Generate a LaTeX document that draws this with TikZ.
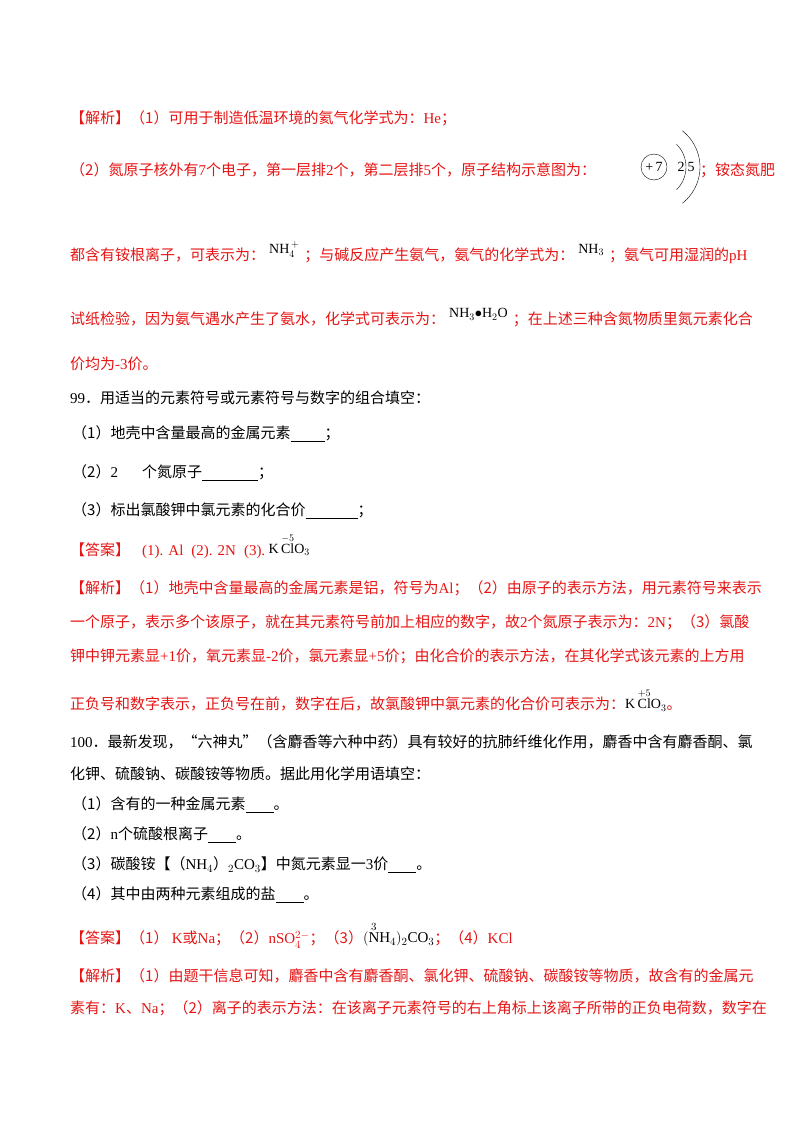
\documentclass[tikz,border=0pt]{standalone}
\usepackage{amsmath}
\usepackage{fontspec}
\setmainfont{Liberation Serif}
\newfontfamily\cjk{Noto Sans CJK SC}
\usepackage{xcolor}
\definecolor{ansred}{RGB}{230,20,20}
\tikzset{
    line-text/.style = {anchor=west, inner sep=0pt, font=\cjk\fontsize{15}{18}\selectfont},
    red-text/.style = {line-text, text=ansred},
    shell/.style = {draw=black, thin},
}
\newcommand{\blank}[1]{\underline{\hspace{#1}}}
\newcommand{\chem}[1]{\hspace{4pt}\raisebox{7pt}{\color{black}\rmfamily\fontsize{14}{16}\selectfont #1}\hspace{5pt}}
\begin{document}
\begin{tikzpicture}[x=1pt,y=-1pt]
\useasboundingbox (0,0) rectangle (800,1132);
\node[red-text] (exA1) at (70,118) {【解析】（1）可用于制造低温环境的氦气化学式为：{\rmfamily He}；};
\node[red-text] (exA2) at (70,170) {（2）氮原子核外有{\rmfamily 7}个电子，第一层排{\rmfamily 2}个，第二层排{\rmfamily 5}个，原子结构示意图为：};
\node[red-text] (exA2b) at (700,170) {；铵态氮肥};
% atom sketch
\node[shell, circle, minimum size=26pt, inner sep=0pt, font=\rmfamily\fontsize{14}{14}\selectfont] (nucleus) at (654,167) {+\,7};
\node[font=\rmfamily\fontsize{14}{14}\selectfont, inner sep=0pt] (shellA) at (681,167) {2};
\node[font=\rmfamily\fontsize{14}{14}\selectfont, inner sep=0pt] (shellB) at (691,167) {5};
\draw[shell] (nucleus.center) ++(45:32) arc[start angle=45, end angle=-45, radius=32];
\draw[shell] (nucleus.center) ++(52:46) arc[start angle=52, end angle=-52, radius=46];
\node[red-text] (exA3) at (70,253) {都含有铵根离子，可表示为：\chem{NH$_4^{\,+}$}；与碱反应产生氨气，氨气的化学式为：\chem{NH$_3$}；氨气可用湿润的{\rmfamily pH}};
\node[red-text] (exA4) at (70,318) {试纸检验，因为氨气遇水产生了氨水，化学式可表示为：\chem{NH$_3$$\bullet$H$_2$O}；在上述三种含氮物质里氮元素化合};
\node[red-text] (exA5) at (70,364) {价均为{\rmfamily -3}价。};
\node[line-text] (q99) at (70,398) {{\rmfamily 99}．用适当的元素符号或元素符号与数字的组合填空：};
\node[line-text] (q99a) at (72,434) {（1）地壳中含量最高的金属元素\blank{34pt}；};
\node[line-text] (q99b) at (72,473) {（2）{\rmfamily 2}\hspace{24pt}个氮原子\blank{56pt}；};
\node[line-text] (q99c) at (72,511) {（3）标出氯酸钾中氯元素的化合价\blank{52pt}；};
\node[red-text] (ans99) at (70,546) {【答案】\hspace{12pt}{\rmfamily (1). Al\hspace{8pt}(2). 2N\hspace{8pt}(3).}\ \raisebox{2pt}{\color{black}\rmfamily\fontsize{14}{16}\selectfont K$\,\overset{-5}{\mathrm{Cl}}$O$_3$}};
\node[red-text] (exB1) at (70,588) {【解析】（1）地壳中含量最高的金属元素是铝，符号为{\rmfamily Al}；（2）由原子的表示方法，用元素符号来表示};
\node[red-text] (exB2) at (70,622) {一个原子，表示多个该原子，就在其元素符号前加上相应的数字，故{\rmfamily 2}个氮原子表示为：{\rmfamily 2N}；（3）氯酸};
\node[red-text] (exB3) at (70,656) {钾中钾元素显{\rmfamily +1}价，氧元素显{\rmfamily -2}价，氯元素显{\rmfamily +5}价；由化合价的表示方法，在其化学式该元素的上方用};
\node[red-text] (exB4) at (70,700) {正负号和数字表示，正负号在前，数字在后，故氯酸钾中氯元素的化合价可表示为：\raisebox{1pt}{\color{black}\rmfamily\fontsize{14}{16}\selectfont K$\,\overset{+5}{\mathrm{Cl}}$O$_3$}。};
\node[line-text] (q100) at (70,742) {{\rmfamily 100}．最新发现，“六神丸”（含麝香等六种中药）具有较好的抗肺纤维化作用，麝香中含有麝香酮、氯};
\node[line-text] (q100b) at (70,774) {化钾、硫酸钠、碳酸铵等物质。据此用化学用语填空：};
\node[line-text] (q100c) at (72,805) {（1）含有的一种金属元素\blank{28pt}。};
\node[line-text] (q100d) at (72,835) {（2）{\rmfamily n}个硫酸根离子\blank{28pt}。};
\node[line-text] (q100e) at (72,865) {（3）碳酸铵【（{\rmfamily NH$_4$}）{\rmfamily $_2$CO$_3$}】中氮元素显一{\rmfamily 3}价\blank{28pt}。};
\node[line-text] (q100f) at (72,895) {（4）其中由两种元素组成的盐\blank{28pt}。};
\node[red-text] (ans100) at (70,935) {【答案】（1）\ {\rmfamily K}或{\rmfamily Na}；（2）{\rmfamily nSO$_4^{2-}$}；（3）\raisebox{1pt}{\color{black}\rmfamily\fontsize{15}{16}\selectfont $(\overset{3}{\mathrm{N}}\mathrm{H}_4)_2\mathrm{CO}_3$}；（4）{\rmfamily KCl}};
\node[red-text] (exC1) at (70,976) {【解析】（1）由题干信息可知，麝香中含有麝香酮、氯化钾、硫酸钠、碳酸铵等物质，故含有的金属元};
\node[red-text] (exC2) at (70,1008) {素有：{\rmfamily K}、{\rmfamily Na}；（2）离子的表示方法：在该离子元素符号的右上角标上该离子所带的正负电荷数，数字在};
\end{tikzpicture}
\end{document}
